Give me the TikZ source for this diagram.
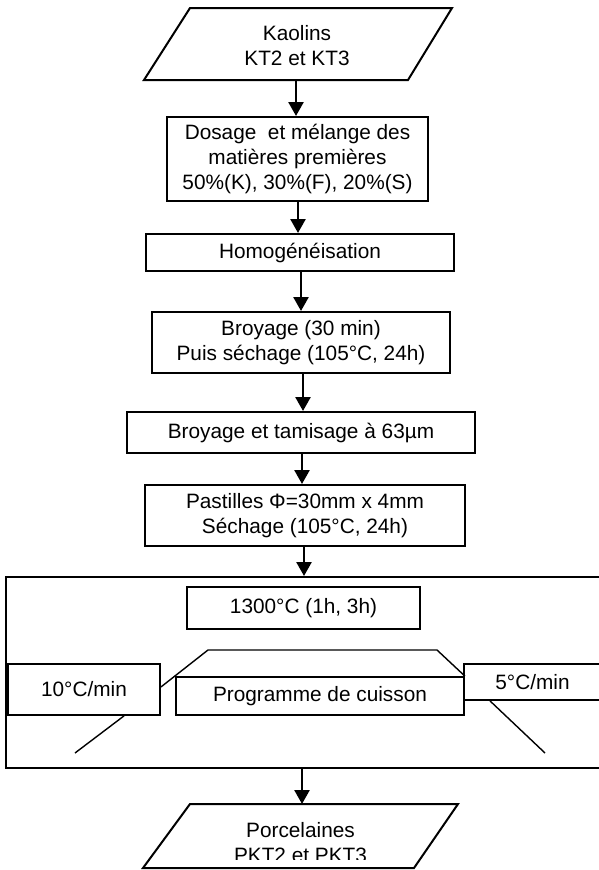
\documentclass[tikz,border=0pt]{standalone}
\usepackage{fontspec}
\setmainfont{Liberation Sans}
\usetikzlibrary{arrows.meta}
\tikzset{
  txt/.style={font=\fontsize{20.8}{25}\selectfont, align=center, inner sep=0pt},
  stepbox/.style={txt, draw, line width=2pt, minimum width=#1},
  arr/.style={line width=2.6pt, -{Triangle[width=15pt,length=14pt]}},
  thin/.style={line width=1.4pt},
}
\begin{document}
\begin{tikzpicture}[x=1pt,y=-1pt]
\useasboundingbox (0,0) rectangle (598,870);
% top parallelogram
\draw[line width=2pt] (190,8) -- (452,8) -- (408,80) -- (144,80) -- cycle;
\node[txt] (kao) at (297,46) {Kaolins\\KT2 et KT3};
\coordinate (kb) at (296,80);
% boxes
\node[stepbox=261pt, minimum height=84pt] (dos) at (297.5,159) {Dosage~ et mélange des\\matières premières\\50\%(K), 30\%(F), 20\%(S)};
\node[stepbox=308pt, minimum height=37pt] (hom) at (300,252.5) {Homogénéisation};
\node[stepbox=298pt, minimum height=61pt] (bro) at (301,342.5) {Broyage (30 min)\\Puis séchage (105°C, 24h)};
\node[stepbox=348pt, minimum height=41pt] (tam) at (301,432.5) {Broyage et tamisage à 63µm};
\node[stepbox=320pt, minimum height=61pt] (pas) at (305,515.5) {Pastilles Φ=30mm x 4mm\\Séchage (105°C, 24h)};
% firing frame
\node[draw, line width=2pt, minimum width=595pt, minimum height=191pt, inner sep=0pt] (four) at (303.5,672.5) {};
\node[stepbox=233pt, minimum height=42pt, line width=1.8pt] (t13) at (303.5,608) {1300°C (1h, 3h)};
\node[stepbox=288pt, minimum height=38pt, line width=1.8pt] (prog) at (320,696) {Programme de cuisson};
\node[stepbox=152pt, minimum height=51pt, line width=1.8pt] (r10) at (84,689.5) {10°C/min};
\node[stepbox=137pt, minimum height=36pt, line width=1.8pt] (r5) at (532.5,682) {5°C/min};
% heating curve
\draw[thin] (r10.east |- 0,687) -- (208,650) -- (437,650) -- (prog.north east);
\coordinate (l1) at (75,753);
\coordinate (l2) at (545,753);
\draw[thin] (r10.south -| 124,0) -- (l1);
\draw[thin] (r5.south -| 490,0) -- (l2);
% bottom parallelogram
\draw[line width=2pt] (190,804) -- (458,804) -- (414,868) -- (143,868) -- cycle;
\coordinate (pt) at (302,804);
\begin{scope}
\clip (0,0) rectangle (598,859.5);
\node[txt] (por) at (300.5,843) {Porcelaines\\PKT2 et PKT3};
\end{scope}
% arrows
\draw[arr] (kb) -- (kb |- dos.north);
\draw[arr] ([xshift=0.5pt]dos.south) -- ([xshift=0.5pt]dos.south |- hom.north);
\draw[arr] ([xshift=1pt]hom.south) -- ([xshift=1pt]hom.south |- bro.north);
\draw[arr] ([xshift=2pt]bro.south) -- ([xshift=2pt]bro.south |- tam.north);
\draw[arr] ([xshift=1pt]tam.south) -- ([xshift=1pt]tam.south |- pas.north);
\draw[arr] ([xshift=-1pt]pas.south) -- ([xshift=-1pt]pas.south |- four.north);
\draw[arr] ([xshift=-1.5pt]four.south) -- (pt);
\end{tikzpicture}
\end{document}
